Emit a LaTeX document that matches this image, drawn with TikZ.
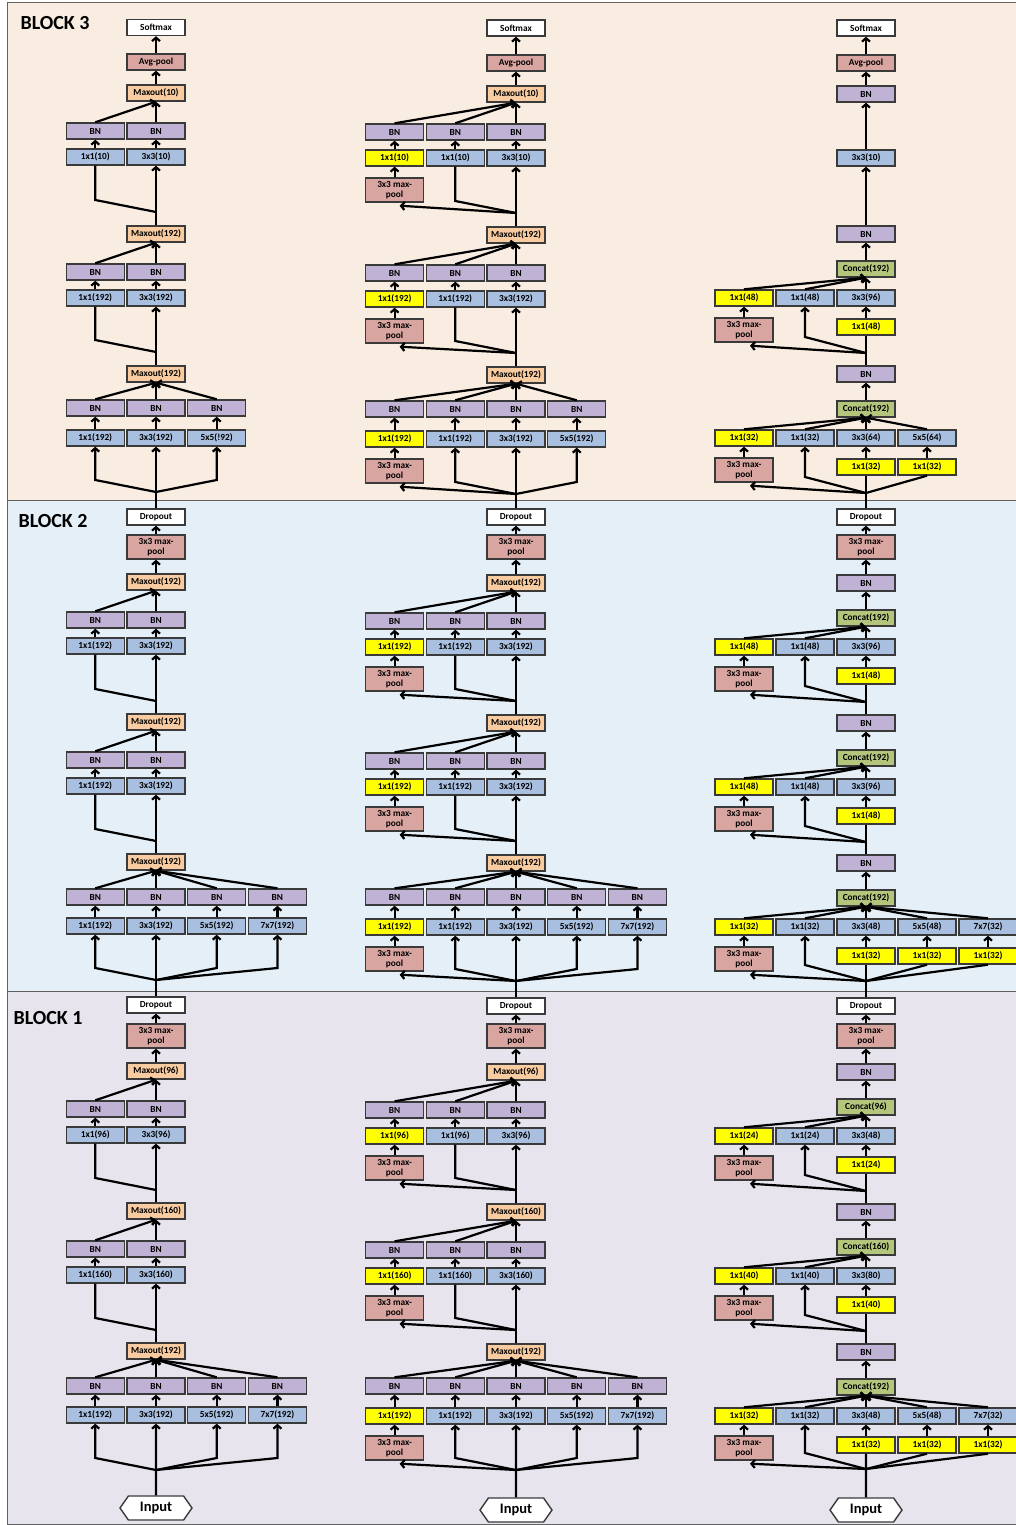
\documentclass[tikz,border=0pt]{standalone}
\usepackage{fontspec}
\setmainfont{Carlito}
\usetikzlibrary{arrows.meta,calc,shapes.symbols}
\definecolor{bord}{HTML}{3A3A3A}
\definecolor{cBN}{HTML}{BFB2D4}
\definecolor{cCV}{HTML}{A8BFE0}
\definecolor{cYL}{HTML}{FFFF00}
\definecolor{cMX}{HTML}{F8CBA0}
\definecolor{cPL}{HTML}{D9A5A1}
\definecolor{cCC}{HTML}{B3C67C}
\definecolor{bgA}{HTML}{F9EDE2}
\definecolor{bgB}{HTML}{E4EFF7}
\definecolor{bgC}{HTML}{E7E4EE}
\tikzset{
 bx/.style={draw=bord, line width=1.4pt, minimum width=58pt, minimum height=16pt, inner sep=0pt, font=\fontsize{9.3}{10}\selectfont\bfseries, text=black},
 bn/.style={fill=cBN}, cv/.style={fill=cCV}, yl/.style={fill=cYL}, mx/.style={fill=cMX},
 cc/.style={fill=cCC}, wt/.style={fill=white}, ap/.style={fill=cPL},
 pl/.style={fill=cPL, minimum height=24pt, align=center, font=\fontsize{9.3}{10}\selectfont\bfseries},
 arr/.style={line width=2.2pt, -{Straight Barb[length=3.5pt,width=8pt]}},
 ln/.style={line width=2.2pt},
 side/.style={arr},
 inp/.style={signal, signal to=west and east, signal pointer angle=110, draw=bord, fill=white, line width=1.4pt, minimum width=72pt, minimum height=24pt, inner sep=0pt, font=\fontsize{14.5}{16}\selectfont\bfseries},
 ttl/.style={anchor=west, font=\fontsize{20}{22}\selectfont\bfseries},
 panel/.style={draw=bord!80, line width=1pt}
}
% column 1 module: pfx, cx, maxY, maxLabel, bnY, convY, kneeY, labels
\newcommand\ColA[8]{%
  \node[bx,mx] (#1m) at (#2,#3) {#4};
  \coordinate (#1g) at (#2,#7+12);
  \foreach \lab [count=\k from 0] in {#8}{%
    \pgfmathsetmacro\xx{#2-60.7+\k*60.7}
    \node[bx,bn] (#1b\k) at (\xx,#5) {BN};
    \node[bx,cv] (#1c\k) at (\xx,#6) {\lab};
    \draw[arr] (#1c\k) -- (#1b\k);
    \draw[arr] (#1b\k.north) -- (#1m.south);
    \ifnum\k=1\relax\else
      \draw[side] (#1g) -- (\xx,#7) -- (#1c\k.south);
    \fi
  }
}
% column 2 module
\newcommand\ColB[8]{%
  \node[bx,mx] (#1m) at (#2,#3) {#4};
  \coordinate (#1g) at (#2,#7+12);
  \node[bx,pl] (#1p) at (#2-121.4,#6+32) {3x3 max-\\pool};
  \draw[arr] (#1g) -- ($(#1p.south)+(5,3)$);
  \foreach \lab [count=\k from 0] in {#8}{%
    \pgfmathsetmacro\xx{#2-121.4+\k*60.7}
    \node[bx,bn] (#1b\k) at (\xx,#5) {BN};
    \ifnum\k=0
      \node[bx,yl] (#1c\k) at (\xx,#6) {\lab};
      \draw[arr] (#1p) -- (#1c\k);
    \else
      \node[bx,cv] (#1c\k) at (\xx,#6) {\lab};
    \fi
    \draw[arr] (#1c\k) -- (#1b\k);
    \draw[arr] (#1b\k.north) -- (#1m.south);
    \ifnum\k=1 \draw[side] (#1g) -- (\xx,#7) -- (#1c\k.south); \fi
    \ifnum\k>2 \draw[side] (#1g) -- (\xx,#7) -- (#1c\k.south); \fi
  }
}
% column 3 module: pfx, cx, concatY, concatLabel, rowY, kneeY, labels, underLabel
\newcommand\ColC[8]{%
  \node[bx,cc] (#1m) at (#2,#3) {#4};
  \coordinate (#1g) at (#2,#6+16);
  \node[bx,pl] (#1p) at (#2-122,#5+32) {3x3 max-\\pool};
  \draw[arr] (#1g) -- ($(#1p.south)+(6,3)$);
  \foreach \lab [count=\k from 0] in {#7}{%
    \pgfmathsetmacro\xx{#2-122+\k*61}
    \ifnum\k=0
      \node[bx,yl] (#1c\k) at (\xx,#5) {\lab};
      \draw[arr] (#1p) -- (#1c\k);
    \else
      \node[bx,cv] (#1c\k) at (\xx,#5) {\lab};
    \fi
    \draw[arr] (#1c\k.north) -- (#1m.south);
    \ifnum\k=1 \draw[arr] (#1g) -- (\xx,#6) -- (#1c\k.south); \fi
    \ifnum\k>1
      \node[bx,yl] (#1y\k) at (\xx,#5+29) {#8};
      \draw[arr] (#1y\k) -- (#1c\k);
    \fi
    \ifnum\k>2 \draw[ln] (#1g) -- (#1y\k.south); \fi
  }
}
\begin{document}
\begin{tikzpicture}[x=1pt,y=-1pt]
\useasboundingbox (0,0) rectangle (1015,1525);
% panels
\fill[bgA] (7,3) rectangle (1030,500);
\fill[bgB] (7,500) rectangle (1030,991);
\fill[bgC] (7,991) rectangle (1030,1524);
\draw[panel] (7,3) rectangle (1030,500);
\draw[panel] (7,500) rectangle (1030,991);
\draw[panel] (7,991) rectangle (1030,1524);
\node[ttl] (T3) at (17,23) {BLOCK 3};
\node[ttl] (T2) at (15,521) {BLOCK 2};
\node[ttl] (T1) at (10,1018) {BLOCK 1};

% ================= BLOCK 3 =================
% column 1
\node[bx,wt] (X3s) at (156,27.5) {Softmax};
\node[bx,ap] (X3a) at (156,62) {Avg-pool};
\tikzset{side/.style={ln}}
\ColA{X3t}{156}{93}{Maxout(10)}{131}{157}{200}{1x1(10),3x3(10)}
\ColA{X3m}{156}{234}{Maxout(192)}{272}{298}{340}{1x1(192),3x3(192)}
\tikzset{side/.style={arr}}
\ColA{X3b}{156}{374}{Maxout(192)}{408}{438}{480}{1x1(192),3x3(192),5x5(!92)}
\draw[arr] (X3tm) -- (X3a);
\draw[arr] (X3a) -- (X3s);
\draw[arr] (X3mm) -- (X3tc1);
\draw[arr] (X3bm) -- (X3mc1);
% column 2
\node[bx,wt] (Y3s) at (516,28) {Softmax};
\node[bx,ap] (Y3a) at (516,63) {Avg-pool};
\tikzset{side/.style={ln}}
\ColB{Y3t}{516}{94}{Maxout(10)}{132}{158}{201}{1x1(10),1x1(10),3x3(10)}
\ColB{Y3m}{516}{235}{Maxout(192)}{273}{299}{341}{1x1(192),1x1(192),3x3(192)}
\tikzset{side/.style={arr}}
\ColB{Y3b}{516}{375}{Maxout(192)}{409}{439}{482}{1x1(192),1x1(192),3x3(192),5x5(192)}
\draw[arr] (Y3tm) -- (Y3a);
\draw[arr] (Y3a) -- (Y3s);
\draw[arr] (Y3mm) -- (Y3tc2);
\draw[arr] (Y3bm) -- (Y3mc2);
% column 3
\node[bx,wt] (Z3s) at (866,28) {Softmax};
\node[bx,ap] (Z3a) at (866,63) {Avg-pool};
\node[bx,bn] (Z3n1) at (866,94) {BN};
\node[bx,cv] (Z3k) at (866,158) {3x3(10)};
\node[bx,bn] (Z3n2) at (866,234) {BN};
\ColC{Z3m}{866}{269}{Concat(192)}{298}{337}{1x1(48),1x1(48),3x3(96)}{1x1(48)}
\node[bx,bn] (Z3n3) at (866,374) {BN};
\ColC{Z3b}{866}{409}{Concat(192)}{438}{477}{1x1(32),1x1(32),3x3(64),5x5(64)}{1x1(32)}
\draw[arr] (Z3n1) -- (Z3a);
\draw[arr] (Z3a) -- (Z3s);
\draw[arr] (Z3k) -- (Z3n1);
\draw[arr] (Z3n2) -- (Z3k);
\draw[arr] (Z3mm) -- (Z3n2);
\draw[ln] (Z3n3) -- (Z3my2);
\draw[arr] (Z3bm) -- (Z3n3);

% ================= BLOCK 2 =================
% column 1
\node[bx,wt] (X2d) at (156,517) {Dropout};
\node[bx,pl] (X2p) at (156,547) {3x3 max-\\pool};
\tikzset{side/.style={ln}}
\ColA{X2t}{156}{582}{Maxout(192)}{620}{646}{689}{1x1(192),3x3(192)}
\ColA{X2m}{156}{722}{Maxout(192)}{760}{786}{829}{1x1(192),3x3(192)}
\tikzset{side/.style={arr}}
\ColA{X2b}{156}{862}{Maxout(192)}{897}{926}{968}{1x1(192),3x3(192),5x5(192),7x7(192)}
\draw[arr] (X2p) -- (X2d);
\draw[arr] (X2tm) -- (X2p);
\draw[arr] (X2mm) -- (X2tc1);
\draw[arr] (X2bm) -- (X2mc1);
\draw[arr] (X2d) -- (X3bc1);
% column 2
\node[bx,wt] (Y2d) at (516,517) {Dropout};
\node[bx,pl] (Y2p) at (516,547) {3x3 max-\\pool};
\tikzset{side/.style={ln}}
\ColB{Y2t}{516}{583}{Maxout(192)}{621}{647}{689}{1x1(192),1x1(192),3x3(192)}
\ColB{Y2m}{516}{723}{Maxout(192)}{761}{787}{829}{1x1(192),1x1(192),3x3(192)}
\tikzset{side/.style={arr}}
\ColB{Y2b}{516}{863}{Maxout(192)}{897}{927}{969}{1x1(192),1x1(192),3x3(192),5x5(192),7x7(192)}
\draw[arr] (Y2p) -- (Y2d);
\draw[arr] (Y2tm) -- (Y2p);
\draw[arr] (Y2mm) -- (Y2tc2);
\draw[arr] (Y2bm) -- (Y2mc2);
\draw[arr] (Y2d) -- (Y3bc2);
% column 3
\node[bx,wt] (Z2d) at (866,517) {Dropout};
\node[bx,pl] (Z2p) at (866,547) {3x3 max-\\pool};
\node[bx,bn] (Z2n1) at (866,583) {BN};
\ColC{Z2t}{866}{618}{Concat(192)}{647}{686}{1x1(48),1x1(48),3x3(96)}{1x1(48)}
\node[bx,bn] (Z2n2) at (866,723) {BN};
\ColC{Z2m}{866}{758}{Concat(192)}{787}{826}{1x1(48),1x1(48),3x3(96)}{1x1(48)}
\node[bx,bn] (Z2n3) at (866,863) {BN};
\ColC{Z2b}{866}{898}{Concat(192)}{927}{965}{1x1(32),1x1(32),3x3(48),5x5(48),7x7(32)}{1x1(32)}
\draw[arr] (Z2p) -- (Z2d);
\draw[arr] (Z2n1) -- (Z2p);
\draw[arr] (Z2tm) -- (Z2n1);
\draw[ln] (Z2n2) -- (Z2ty2);
\draw[arr] (Z2mm) -- (Z2n2);
\draw[ln] (Z2n3) -- (Z2my2);
\draw[arr] (Z2bm) -- (Z2n3);
\draw[ln] (Z2d) -- (Z3by2);

% ================= BLOCK 1 =================
% column 1
\node[bx,wt] (X1d) at (156,1005) {Dropout};
\node[bx,pl] (X1p) at (156,1036) {3x3 max-\\pool};
\tikzset{side/.style={ln}}
\ColA{X1t}{156}{1071}{Maxout(96)}{1109}{1135}{1178}{1x1(96),3x3(96)}
\ColA{X1m}{156}{1211}{Maxout(160)}{1249}{1275}{1318}{1x1(160),3x3(160)}
\tikzset{side/.style={arr}}
\ColA{X1b}{156}{1351}{Maxout(192)}{1386}{1415}{1458}{1x1(192),3x3(192),5x5(192),7x7(192)}
\node[inp] (X1i) at (156,1508) {Input};
\draw[arr] (X1p) -- (X1d);
\draw[arr] (X1tm) -- (X1p);
\draw[arr] (X1mm) -- (X1tc1);
\draw[arr] (X1bm) -- (X1mc1);
\draw[arr] (X1i) -- (X1bc1);
\draw[arr] (X1d) -- (X2bc1);
% column 2
\node[bx,wt] (Y1d) at (516,1006) {Dropout};
\node[bx,pl] (Y1p) at (516,1036) {3x3 max-\\pool};
\tikzset{side/.style={ln}}
\ColB{Y1t}{516}{1072}{Maxout(96)}{1110}{1136}{1178}{1x1(96),1x1(96),3x3(96)}
\ColB{Y1m}{516}{1212}{Maxout(160)}{1250}{1276}{1318}{1x1(160),1x1(160),3x3(160)}
\tikzset{side/.style={arr}}
\ColB{Y1b}{516}{1352}{Maxout(192)}{1386}{1416}{1458}{1x1(192),1x1(192),3x3(192),5x5(192),7x7(192)}
\node[inp] (Y1i) at (516,1510) {Input};
\draw[arr] (Y1p) -- (Y1d);
\draw[arr] (Y1tm) -- (Y1p);
\draw[arr] (Y1mm) -- (Y1tc2);
\draw[arr] (Y1bm) -- (Y1mc2);
\draw[arr] (Y1i) -- (Y1bc2);
\draw[arr] (Y1d) -- (Y2bc2);
% column 3
\node[bx,wt] (Z1d) at (866,1006) {Dropout};
\node[bx,pl] (Z1p) at (866,1036) {3x3 max-\\pool};
\node[bx,bn] (Z1n1) at (866,1072) {BN};
\ColC{Z1t}{866}{1107}{Concat(96)}{1136}{1175}{1x1(24),1x1(24),3x3(48)}{1x1(24)}
\node[bx,bn] (Z1n2) at (866,1212) {BN};
\ColC{Z1m}{866}{1247}{Concat(160)}{1276}{1315}{1x1(40),1x1(40),3x3(80)}{1x1(40)}
\node[bx,bn] (Z1n3) at (866,1352) {BN};
\ColC{Z1b}{866}{1387}{Concat(192)}{1416}{1453}{1x1(32),1x1(32),3x3(48),5x5(48),7x7(32)}{1x1(32)}
\node[inp] (Z1i) at (866,1510) {Input};
\draw[arr] (Z1p) -- (Z1d);
\draw[arr] (Z1n1) -- (Z1p);
\draw[arr] (Z1tm) -- (Z1n1);
\draw[ln] (Z1n2) -- (Z1ty2);
\draw[arr] (Z1mm) -- (Z1n2);
\draw[ln] (Z1n3) -- (Z1my2);
\draw[arr] (Z1bm) -- (Z1n3);
\draw[ln] (Z1i) -- (Z1by2);
\draw[ln] (Z1d) -- (Z2by2);
\end{tikzpicture}
\end{document}
